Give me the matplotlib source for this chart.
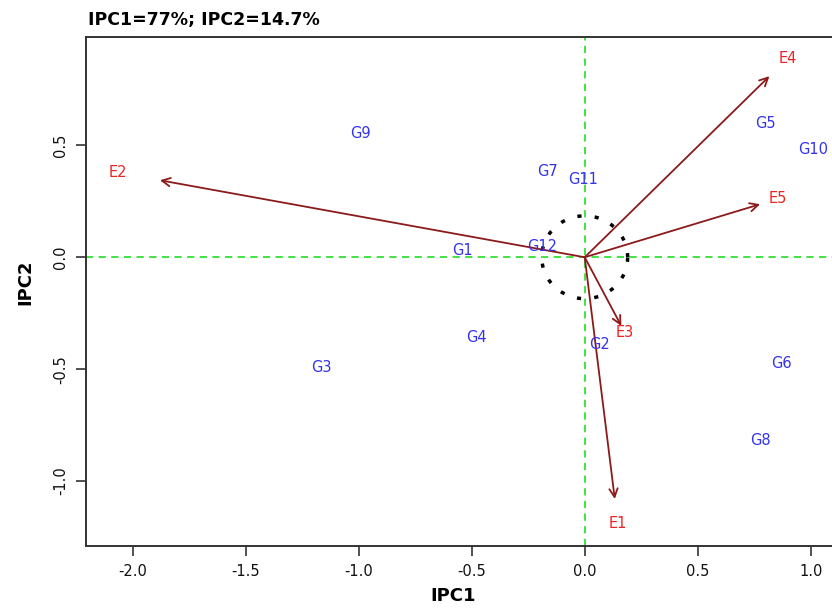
import matplotlib
matplotlib.use("Agg")
import matplotlib.pyplot as plt
import numpy as np

plt.rcParams['font.family'] = ['DejaVu Sans']
plt.rcParams['axes.unicode_minus'] = False

# environment vectors (arrow tips)
env_names = ["E1", "E2", "E3", "E4", "E5"]
env_x = [0.133, -1.879, 0.162, 0.817, 0.776]
env_y = [-1.080, 0.344, -0.307, 0.809, 0.237]

# genotype scores
gen_names = ["G1", "G2", "G3", "G4", "G5", "G6", "G7", "G8", "G9", "G10", "G11", "G12"]
gen_x = [-0.542, 0.064, -1.166, -0.481, 0.798, 0.869, -0.166, 0.776, -0.994, 1.012, -0.007, -0.188]
gen_y = [0.031, -0.388, -0.492, -0.357, 0.597, -0.473, 0.384, -0.820, 0.554, 0.482, 0.348, 0.049]

x_ticks = [-2.0, -1.5, -1.0, -0.5, 0.0, 0.5, 1.0]
y_ticks = [-1.0, -0.5, 0.0, 0.5]

W, H = 832, 608
fig = plt.figure(figsize=(W / 100, H / 100), dpi=100)
ax = fig.add_axes([86 / W, 62 / H, 770 / W, 509 / H])
ax.set_xlim(-2.206, 1.2)
ax.set_ylim(-1.290, 0.984)

# reference lines and circle
ax.axhline(0, color='#33e033', lw=1.3, ls=(0, (4, 3)), zorder=1)
ax.axvline(0, color='#33e033', lw=1.3, ls=(0, (4, 3)), zorder=1)
t = np.linspace(0, 2 * np.pi, 200)
ax.plot(0.19 * np.cos(t), 0.185 * np.sin(t), color='black', lw=2.5,
        ls=(0, (1.2, 3.8)), zorder=2)

# environment arrows and labels
for name, ex, ey in zip(env_names, env_x, env_y):
    ax.annotate("", xy=(ex, ey), xytext=(0, 0),
                arrowprops=dict(arrowstyle='->,head_length=0.6,head_width=0.3',
                                color='#8b1a1a', lw=1.3, shrinkA=0, shrinkB=0),
                zorder=3)
    ax.text(ex * 1.1, ey * 1.1, name, color='#ee2222', fontsize=10.5,
            ha='center', va='center', zorder=4)

# genotype labels
for name, gx, gy in zip(gen_names, gen_x, gen_y):
    ax.text(gx, gy, name, color='#3333ee', fontsize=10.5,
            ha='center', va='center', zorder=4)

ax.set_xticks(x_ticks)
ax.set_xticklabels([f"{v:.1f}" for v in x_ticks])
ax.set_yticks(y_ticks)
ax.set_yticklabels([f"{v:.1f}" for v in y_ticks], rotation=90, va='center')
ax.tick_params(length=7, width=1.2, color='#333333', labelsize=10.5, pad=6,
               labelcolor='#111111')

for s in ax.spines.values():
    s.set_linewidth(1.4)
    s.set_color('#333333')

# axis titles and header placed in figure pixels
fig.text(453 / W, 1 - 596 / H, "IPC1", fontsize=13, fontweight='bold',
         ha='center', va='center')
fig.text(25 / W, 1 - 282 / H, "IPC2", fontsize=13, fontweight='bold',
         ha='center', va='center', rotation=90)
fig.text(88 / W, 1 - 20 / H, "IPC1=77%; IPC2=14.7%", fontsize=12.5,
         fontweight='bold', ha='left', va='center')

fig.savefig("out.png", dpi=100)
